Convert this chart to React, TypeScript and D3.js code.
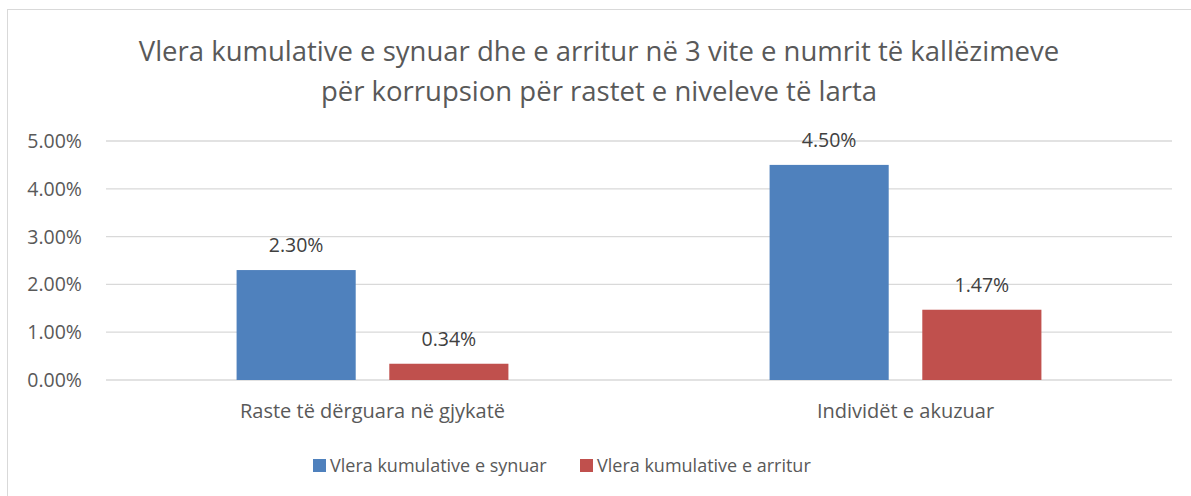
import React from 'react';
import * as d3 from 'd3';

const categories = ['Raste të dërguara në gjykatë', 'Individët e akuzuar'];
const seriesNames = ['Vlera kumulative e synuar', 'Vlera kumulative e arritur'];
const targetValues = [2.3, 4.5];
const achievedValues = [0.34, 1.47];
const yTicks = [0, 1, 2, 3, 4, 5];
const titleLines = [
  'Vlera kumulative e synuar dhe e arritur në 3 vite e numrit të kallëzimeve',
  'për korrupsion për rastet e niveleve të larta',
];
const colors = ['#4F81BD', '#C0504D'];

const W = 1191;
const H = 496;
const FONT = '"Open Sans", sans-serif';

export default function App() {
  const margin = {left: 106, right: 19, top: 141, bottom: 116};
  const x0 = d3.scaleBand<string>()
    .domain(categories)
    .range([margin.left, W - margin.right])
    .paddingInner(0.49)
    .paddingOuter(0.245);
  const x1 = d3.scaleBand<number>()
    .domain([0, 1])
    .range([0, x0.bandwidth()])
    .paddingInner(0.22);
  const y = d3.scaleLinear().domain([0, 5]).range([380, 141]);
  const series = [targetValues, achievedValues];
  const fmt = (v: number) => v.toFixed(2) + '%';

  return (
    <svg width={W} height={H} style={{position: 'absolute', left: 0, top: 0}} fontFamily={FONT}>
      <rect x={0} y={0} width={W} height={H} fill="#fff" />
      <rect x={7.5} y={9.5} width={W} height={H} fill="none" stroke="#D9D9D9" />
      {titleLines.map((t, i) => (
        <text key={i} x={599} y={61 + i * 40} textAnchor="middle" fontSize={27.5} fill="#595959">{t}</text>
      ))}
      {yTicks.map((t) => (
        <g key={t}>
          <line x1={margin.left} x2={W - margin.right} y1={y(t)} y2={y(t)} stroke="#D9D9D9" strokeWidth={1.3} />
          <text x={82} y={y(t) + 7} textAnchor="end" fontSize={19.5} fill="#595959">{fmt(t)}</text>
        </g>
      ))}
      {categories.map((c, ci) => (
        <g key={c}>
          {series.map((vals, si) => {
            const bx = (x0(c) ?? 0) + (x1(si) ?? 0);
            return (
              <g key={si}>
                <rect x={bx} y={y(vals[ci])} width={x1.bandwidth()} height={y(0) - y(vals[ci])} fill={colors[si]} />
                <text x={bx + x1.bandwidth() / 2} y={y(vals[ci]) - 18} textAnchor="middle" fontSize={19.5} fill="#404040">{fmt(vals[ci])}</text>
              </g>
            );
          })}
          <text x={(x0(c) ?? 0) + x0.bandwidth() / 2} y={418} textAnchor="middle" fontSize={20} fill="#595959">{c}</text>
        </g>
      ))}
      {seriesNames.map((s, i) => {
        const lx = i === 0 ? 313 : 580;
        return (
          <g key={s}>
            <rect x={lx} y={459} width={13} height={13} fill={colors[i]} />
            <text x={lx + 17} y={472} fontSize={18} fill="#595959">{s}</text>
          </g>
        );
      })}
    </svg>
  );
}
